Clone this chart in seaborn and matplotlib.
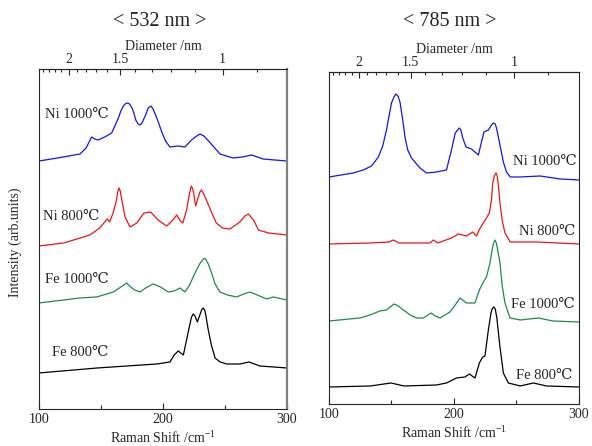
import matplotlib
matplotlib.use("Agg")
import matplotlib.pyplot as plt
import seaborn as sns
import numpy as np
import pandas as pd
from matplotlib.ticker import FixedLocator, FixedFormatter, MultipleLocator


# ---- data (Raman shift /cm-1, stacked intensity arb. units) ----
# 532 nm panel
l_ni1000_x = [100, 115, 133, 138, 140, 142.5, 145, 147.6, 153, 158.6, 164, 166, 168, 170, 171.5, 173, 175,
              176.5, 178, 180, 181.5, 183, 186, 188, 190.3, 192, 194, 196.5, 199, 202, 205.6, 212, 217.7,
              223, 226, 229.8, 233, 236, 246, 256.5, 264, 271.5, 280.6, 290, 300]
l_ni1000_y = [248, 251, 255, 261, 266, 272, 270, 269, 272, 276, 291, 298, 303, 305.5, 306, 305, 301,
              296, 289, 285, 284, 286, 294, 301, 303, 300, 294, 286, 277, 268, 262, 263, 262,
              269, 272, 275, 273, 269, 255, 251, 252, 254, 250, 249, 248]

l_ni800_x = [100, 120, 141, 149, 153, 155, 157, 160, 162.5, 163.5, 164.5, 165.5, 166.5, 169.4, 173.4, 178.8,
             184.7, 190, 196, 203, 208, 211, 214, 216, 219, 221, 222.8, 224, 225, 226.3, 228.5, 229.8,
             231, 232.5, 235, 239, 243, 248, 254, 262, 266, 268.8, 273, 277, 285, 300]
l_ni800_y = [163, 166, 174, 181, 187, 190, 187, 197, 209, 217, 221, 218, 211, 192, 182, 186,
             196, 197, 189, 183, 189, 194, 188, 186, 199, 213, 223, 220, 214, 203, 212, 217,
             219, 216, 209, 197, 186, 181, 180, 187, 193, 195, 189, 179, 176, 174]

l_fe1000_x = [100, 133, 146.5, 160, 166, 170.7, 173, 177, 181.5, 186, 192, 198, 204.3, 209, 213.7, 217.7,
              221, 224.4, 227, 230, 232, 233.2, 234.4, 236.5, 239.2, 242, 246, 252, 259.4, 265, 270, 276,
              283.6, 289, 300]
l_fe1000_y = [106, 111, 112, 117, 122, 126, 123, 119, 117, 121, 125, 122, 117, 118, 121, 117,
              123, 132, 139, 146, 149, 150.5, 150, 145, 136, 125, 117, 114, 112, 115, 117, 114,
              110, 112, 109]

l_fe800_x = [100, 147, 195, 205.6, 209, 212.3, 216.4, 219, 221.2, 223, 224.4, 225.8, 227.7, 230, 231.3,
             232.5, 233.6, 234.5, 236.5, 239, 242, 246, 251.3, 262, 269.4, 278, 300]
l_fe800_y = [36, 41, 45, 47, 54, 58, 54, 69, 82, 92, 95, 93, 87, 95, 99.5,
             101, 99, 94, 79, 64, 51, 47, 45, 45, 47, 43, 41]

# 785 nm panel
r_ni1000_x = [100, 119.5, 127.5, 134, 139.5, 143, 146, 150, 152, 153.6, 155.2, 156.8, 159, 160.8, 163, 166,
              172.8, 178, 186, 194, 198, 201, 203, 204.3, 205.5, 207, 209.6, 214, 219.5, 222, 224, 227.5,
              230, 231.5, 233, 234, 235.5, 239.5, 242, 245, 253, 269, 285, 300]
r_ni1000_y = [227, 231, 234, 238, 247, 258, 274, 301, 307, 310, 308, 302, 284, 267, 254, 246,
              236, 231, 232, 234, 254, 271, 274, 276, 274, 266, 257, 255, 249, 262, 272, 274,
              279, 281, 280, 276, 267, 242, 232, 227, 227, 228, 225, 224]

r_ni800_x = [100, 133, 148, 151.5, 156, 180.8, 183.5, 187, 198, 203.5, 210, 215, 218, 220.5, 223.5, 226,
             228.3, 230, 231, 232.3, 233.6, 234.6, 235.5, 236.8, 238.5, 240.8, 245, 266, 300]
r_ni800_y = [160, 161, 162, 164, 161, 161, 164, 161, 166, 170, 168, 172, 168, 175, 181, 186,
             191, 204, 221, 228, 231, 228, 219, 201, 184, 171, 162, 162, 160]

r_fe1000_x = [100, 124.8, 132.8, 140.8, 146, 152, 155.5, 159.5, 165, 170, 175.5, 181.6, 185, 188.8, 196.8,
              201, 204.8, 210, 216.8, 220.3, 223.5, 226, 228.8, 230.5, 231.7, 232.8, 233.9, 235, 236.8,
              238.5, 240.8, 244.8, 253, 267.5, 279, 300]
r_fe1000_y = [83, 86, 89, 93, 94, 100, 98, 94, 89, 86, 86, 91, 88, 86, 92,
              99, 106, 101, 101, 114, 122, 127, 141, 154, 161, 164, 161, 154, 141,
              119, 101, 86, 84, 86, 83, 82]

r_fe800_x = [100, 133, 149.6, 160, 186, 194, 202, 208.8, 212.3, 216.8, 220.3, 223, 224.8, 227.5, 229.6,
             230.7, 231.8, 233, 234.2, 236.8, 239.5, 243.5, 253, 263.5, 274, 300]
r_fe800_y = [17, 18, 21, 18, 19, 21, 26, 27, 30, 26, 41, 47, 48, 74, 91,
             95.5, 97, 95, 87, 57, 31, 21, 18, 21, 18, 17]

sample_names = ["Ni 1000℃", "Ni 800℃", "Fe 1000℃", "Fe 800℃"]
line_colors = ["#1414f0", "#f01414", "#1f8a4c", "#000000"]

diam_major = [2, 1.5, 1]
diam_minor = [2.4, 2.3, 2.2, 2.1, 1.9, 1.8, 1.7, 1.6, 1.4, 1.3, 1.2, 1.1, 0.9]

sns.set_style("ticks")
plt.rcParams["font.family"] = ["Liberation Serif", "DejaVu Serif", "Noto Sans CJK JP"]
plt.rcParams["mathtext.fontset"] = "custom"
plt.rcParams["mathtext.rm"] = "Liberation Serif"

fig = plt.figure(figsize=(5.92, 4.46), dpi=100)
ax_l = fig.add_axes([0.0659, 0.0830, 0.4189, 0.7623])
ax_r = fig.add_axes([0.5557, 0.0942, 0.4223, 0.7444])


def draw_panel(ax, xs, ys, ymax):
    for x, y, name, c in zip(xs, ys, sample_names, line_colors):
        df = pd.DataFrame({"shift": x, "intensity": y})
        sns.lineplot(data=df, x="shift", y="intensity", ax=ax, color=c, lw=0.9, sort=False)
    ax.set_xlim(100, 300)
    ax.set_ylim(0, ymax)
    ax.set_yticks([])
    ax.set_ylabel("")
    ax.set_xlabel("Raman Shift /cm$^{-1}$", fontsize=10, labelpad=2)
    ax.xaxis.set_major_locator(FixedLocator([100, 200, 300]))
    ax.xaxis.set_minor_locator(MultipleLocator(50))
    ax.tick_params(axis="x", which="major", direction="in", length=4, width=0.8, labelsize=10, pad=3)
    ax.tick_params(axis="x", which="minor", direction="in", length=3, width=0.8)
    ax.tick_params(axis="x", top=False)
    for s in ax.spines.values():
        s.set_linewidth(0.8)
        s.set_visible(True)

    # diameter axis on top, d = 248 / shift
    sec = ax.secondary_xaxis("top", functions=(lambda w: 248.0 / w, lambda d: 248.0 / d))
    sec.xaxis.set_major_locator(FixedLocator(diam_major))
    sec.xaxis.set_major_formatter(FixedFormatter(["2", "1.5", "1"]))
    sec.xaxis.set_minor_locator(FixedLocator(diam_minor))
    sec.tick_params(which="major", direction="in", length=4, width=0.8, labelsize=10, pad=2)
    sec.tick_params(which="minor", direction="in", length=2.5, width=0.8)
    sec.set_xlabel("Diameter /nm", fontsize=10, labelpad=2)
    sec.spines["top"].set_linewidth(0.8)
    return sec


draw_panel(ax_l, [l_ni1000_x, l_ni800_x, l_fe1000_x, l_fe800_x],
           [l_ni1000_y, l_ni800_y, l_fe1000_y, l_fe800_y], 340)
draw_panel(ax_r, [r_ni1000_x, r_ni800_x, r_fe1000_x, r_fe800_x],
           [r_ni1000_y, r_ni800_y, r_fe1000_y, r_fe800_y], 332)

ax_l.spines["right"].set_color("#808080")
ax_l.spines["right"].set_linewidth(1.6)

# sample labels
for (x, y), name in zip([(104.8, 294), (103, 192), (104.8, 129), (110.2, 56)], sample_names):
    ax_l.text(x, y, name, fontsize=10.5, ha="left", va="center")
for (x, y), name in zip([(298.4, 242), (296.8, 172), (296.8, 99), (295, 28)], sample_names):
    ax_r.text(x, y, name, fontsize=10.5, ha="right", va="center")

fig.text(160 / 592, 1 - 22 / 446, "< 532 nm >", fontsize=14.5, ha="center", va="center")
fig.text(450 / 592, 1 - 22 / 446, "< 785 nm >", fontsize=14.5, ha="center", va="center")
fig.text(15 / 592, 1 - 242 / 446, "Intensity (arb.units)", fontsize=10, rotation=90,
         ha="center", va="center")

fig.savefig("out.png", dpi=100)
